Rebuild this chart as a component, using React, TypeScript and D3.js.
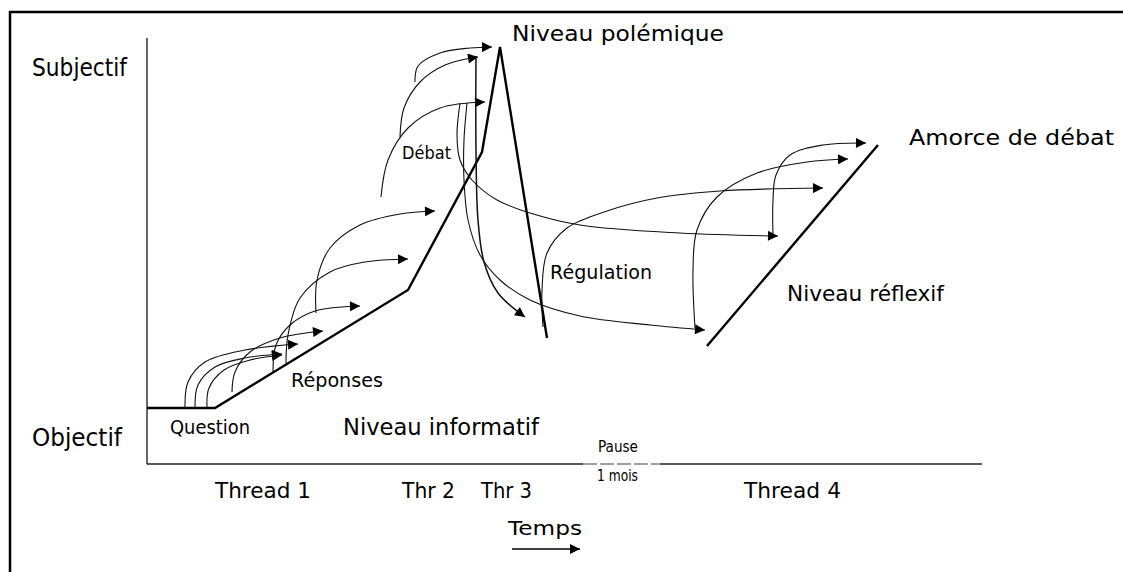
import React from "react";
import * as d3 from "d3";

// Diagram coordinates: time (x) and level objectif→subjectif (y)
const levelPath: [number, number][] = [
  [0, 56], [68, 56], [261, 174], [335, 312], [353, 417], [400, 126],
];
const reflexifLine: [number, number][] = [[560, 118], [731, 319]];

const thread1Arrows: [number, number][][] = [
  [[38, 56], [41, 82], [58, 102], [98, 114], [151, 120]],
  [[48, 56], [51, 79], [68, 97], [98, 106], [135, 110]],
  [[60, 56], [62, 76], [77, 94], [103, 104], [135, 109]],
  [[85, 72], [88, 92], [103, 112], [133, 126], [176, 133]],
  [[126, 92], [129, 119], [143, 139], [168, 153], [213, 158]],
  [[139, 101], [141, 129], [153, 166], [183, 192], [218, 202], [261, 205]],
  [[169, 151], [170, 184], [183, 216], [213, 239], [253, 250], [288, 253]],
];
const debatArrows: [number, number][][] = [
  [[234, 267], [241, 304], [261, 336], [293, 356], [338, 362]],
  [[253, 327], [257, 356], [273, 382], [298, 399], [331, 407]],
  [[268, 382], [271, 398], [293, 411], [323, 416], [345, 417]],
];
const descentArrows: [number, number][][] = [
  [[313, 361], [310, 329], [313, 304], [325, 284], [350, 264], [383, 251], [433, 239], [533, 231], [631, 228]],
  [[320, 361], [317, 324], [317, 284], [321, 244], [333, 209], [353, 184], [383, 164], [433, 148], [503, 139], [558, 134]],
];
const dropArrow: [number, number][] = [[329, 408], [329, 314], [331, 244], [337, 202], [351, 171], [378, 147]];
const regulationArrow: [number, number][] = [
  [396, 137], [395, 174], [400, 211], [420, 236], [460, 253], [510, 266], [573, 273], [676, 276],
];
const thread4Arrows: [number, number][][] = [
  [[548, 136], [546, 194], [550, 234], [570, 267], [610, 291], [660, 302], [701, 305]],
  [[626, 229], [626, 264], [629, 289], [643, 309], [676, 319], [719, 321]],
];
const timeArrow: [number, number][] = [[365, -85], [433, -85]];
const axisSolid: [number, number][][] = [[[0, 0], [436, 0]], [[513, 0], [835, 0]]];
const axisPause: [number, number][] = [[436, 0], [513, 0]];
const yAxisLine: [number, number][] = [[0, 0], [0, 426]];

const labelTexts = [
  "Subjectif", "Objectif", "Niveau polémique", "Débat", "Amorce de débat",
  "Régulation", "Niveau réflexif", "Réponses", "Question", "Niveau informatif",
  "Pause", "1 mois", "Thread 1", "Thr 2", "Thr 3", "Thread 4", "Temps",
];
const labelX = [-115, -115, 365, 255, 762, 403, 640, 144, 23, 196, 451, 450, 68, 255, 334, 597, 361];
const labelY = [388, 18, 423, 305, 319, 185, 163, 77, 30, 29, 12, -17, -34, -34, -34, -34, -71];
const labelW = [95, 90, 212, 49, 205, 102, 157, 92, 80, 196, 40, 41, 96, 53, 51, 97, 74];
const labelSize = [24, 24, 22, 18, 22, 19, 22, 19, 19, 23, 15, 15, 22, 22, 22, 22, 20];

export default function App() {
  const x = d3.scaleLinear().domain([0, 835]).range([147, 982]);
  const y = d3.scaleLinear().domain([0, 426]).range([464, 38]);
  const straight = d3.line<[number, number]>().x((d) => x(d[0])).y((d) => y(d[1]));
  const curve = d3
    .line<[number, number]>()
    .x((d) => x(d[0]))
    .y((d) => y(d[1]))
    .curve(d3.curveCatmullRom.alpha(0.5));

  const allArrows = [...thread1Arrows, ...debatArrows, ...descentArrows, regulationArrow, ...thread4Arrows];
  const font = "'DejaVu Sans', 'Liberation Sans', sans-serif";

  return (
    <svg width={1123} height={572} style={{ position: "absolute", left: 0, top: 0, background: "#fff" }}>
      <defs>
        <marker id="ah" viewBox="0 0 10 10" refX="10" refY="5" markerWidth="14" markerHeight="10"
          markerUnits="userSpaceOnUse" orient="auto">
          <path d="M0,0 L10,5 L0,10 z" fill="#000" />
        </marker>
      </defs>
      <rect x={0} y={0} width={1123} height={572} fill="#fff" />
      {/* frame */}
      <path d="M10,580 L10,12 L1130,12" fill="none" stroke="#000" strokeWidth={2.5} />
      {/* axes */}
      <path d={straight(yAxisLine) || ""} stroke="#555" strokeWidth={1.8} fill="none" />
      {axisSolid.map((s, i) => (
        <path key={"ax" + i} d={straight(s) || ""} stroke="#222" strokeWidth={1.4} fill="none" />
      ))}
      <path d={straight(axisPause) || ""} stroke="#444" strokeWidth={1.2} strokeDasharray="14 3" fill="none" />
      {/* level lines */}
      <path d={straight(levelPath) || ""} stroke="#000" strokeWidth={2.4} fill="none" strokeLinejoin="miter" />
      <path d={straight(reflexifLine) || ""} stroke="#000" strokeWidth={2.4} fill="none" />
      {/* arrows */}
      {allArrows.map((a, i) => (
        <path key={"ar" + i} d={curve(a) || ""} stroke="#111" strokeWidth={1.1} fill="none" markerEnd="url(#ah)" />
      ))}
      <path d={curve(dropArrow) || ""} stroke="#111" strokeWidth={1.5} fill="none" markerEnd="url(#ah)" />
      <path d={straight(timeArrow) || ""} stroke="#000" strokeWidth={1.4} fill="none" markerEnd="url(#ah)" />
      {/* labels */}
      {labelTexts.map((t, i) => (
        <text key={"t" + i} x={x(labelX[i])} y={y(labelY[i])} fontFamily={font} fontSize={labelSize[i]}
          textLength={labelW[i]} lengthAdjust="spacingAndGlyphs" fill="#000">
          {t}
        </text>
      ))}
    </svg>
  );
}
